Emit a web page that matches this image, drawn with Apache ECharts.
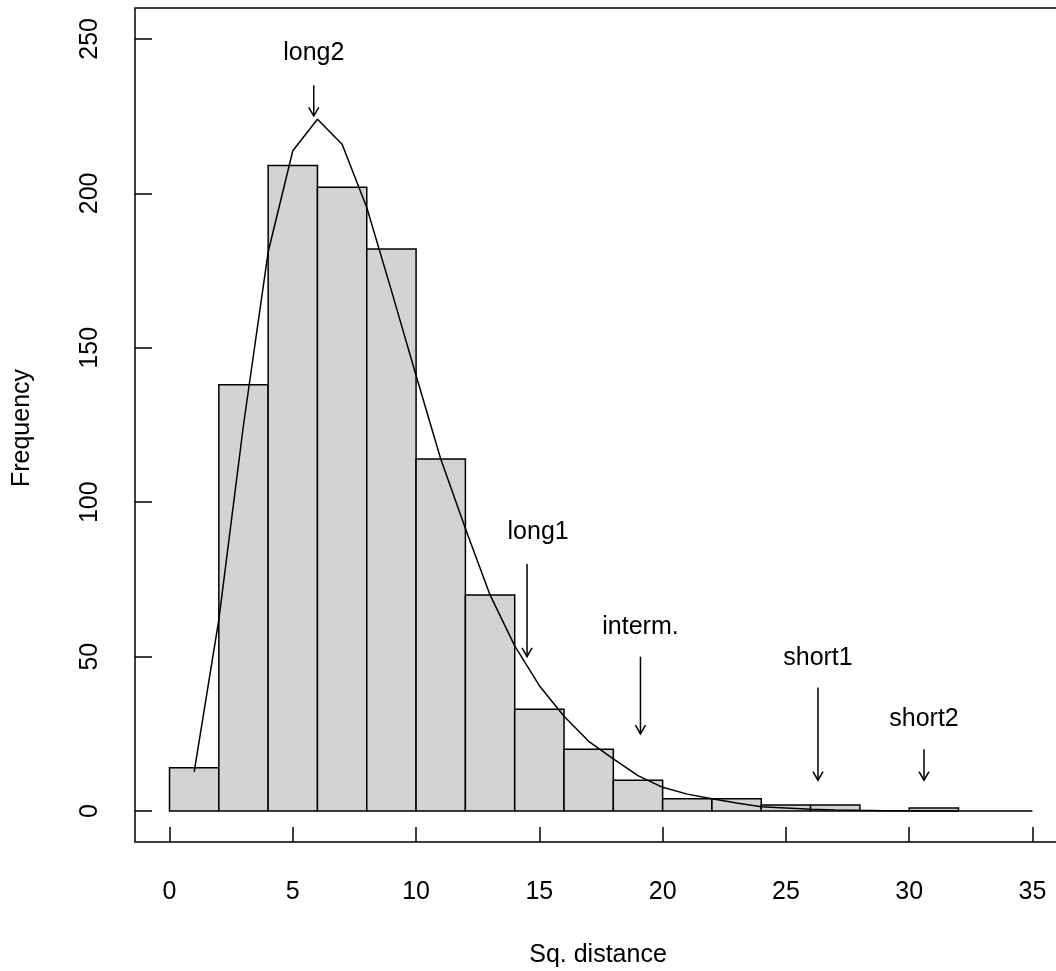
<!DOCTYPE html>
<html>
<head>
<meta charset="utf-8">
<script src="https://cdn.jsdelivr.net/npm/echarts@6/dist/echarts.min.js"></script>
<style>
html,body{margin:0;padding:0;background:#fff;}
#chart{width:1056px;height:971px;}
</style>
</head>
<body>
<div id="chart"></div>
<script>
// Histogram bins (edges) and counts
const binEdges = [0,2,4,6,8,10,12,14,16,18,20,22,24,26,28,30,32];
const counts = [14,138,209,202,182,114,70,33,20,10,4,4,2,2,0,1];

// Fitted curve
const curveX = [1,2,3,4,5,6,7,8,9,10,11,12,13,14,15,16,17,18,19,20,21,22,23,24,25,26,27,28,29,30,31,32,33,34,35];
const curveY = [12.7,62,125,181,213.8,224,215.9,195.4,168.5,141,114,91.5,70,53.5,40.6,30.7,22.6,16.9,11.5,7.7,5.5,4,2.6,1.4,1.0,0.6,0.4,0.25,0.15,0.1,0.06,0.04,0.02,0.01,0];

// Annotations
const annLabels = ['long2','long1','interm.','short1','short2'];
const arrowX = [5.85, 14.5, 19.1, 26.3, 30.6];
const arrowFrom = [235, 80, 50, 40, 20];
const arrowTo = [225, 50, 25, 10, 10];
const labelX = [5.85, 14.95, 19.1, 26.3, 30.6];
const labelY = [245.5, 90.4, 59.6, 49.4, 29.7];

// Axis ticks
const xTicks = [0,5,10,15,20,25,30,35];
const yTicks = [0,50,100,150,200,250];

const FONT = '"Liberation Sans", Arial, Helvetica, sans-serif';
const LW = 1.5;

const binData = counts.map((c,i)=>[binEdges[i], binEdges[i+1], c]);
const curveData = curveX.map((x,i)=>[x, curveY[i]]);
const annData = annLabels.map((l,i)=>[arrowX[i], arrowFrom[i], arrowTo[i], labelX[i], labelY[i]]);

const chart = echarts.init(document.getElementById('chart'), null, {renderer:'canvas'});
chart.setOption({
  animation:false,
  backgroundColor:'#fff',
  grid:{left:135, top:8, width:932, height:834, show:true, borderColor:'#000', borderWidth:LW,
        backgroundColor:'transparent', containLabel:false, outerBoundsMode:'none'},
  xAxis:{
    type:'value', min:-1.4, max:36.4,
    axisLine:{show:false, onZero:false},
    splitLine:{show:false},
    axisTick:{show:true, inside:true, length:15, customValues:xTicks, lineStyle:{color:'#000', width:LW}},
    axisLabel:{show:true, customValues:xTicks, margin:38, fontSize:25, color:'#000', fontFamily:FONT}
  },
  yAxis:{
    type:'value', min:-10, max:260,
    axisLine:{show:false, onZero:false},
    splitLine:{show:false},
    axisTick:{show:true, inside:true, length:17, customValues:yTicks, lineStyle:{color:'#000', width:LW}},
    axisLabel:{show:true, customValues:yTicks, rotate:90, margin:32, fontSize:25, color:'#000', fontFamily:FONT}
  },
  graphic:[
    {type:'text', x:598, y:955, style:{text:'Sq. distance', fontSize:25, fontFamily:FONT, fill:'#000', align:'center', verticalAlign:'middle'}},
    {type:'text', x:22, y:428, rotation:Math.PI/2, style:{text:'Frequency', fontSize:25, fontFamily:FONT, fill:'#000', align:'center', verticalAlign:'middle'}}
  ],
  series:[
    {
      type:'custom', name:'hist', data:binData, z:2,
      encode:{x:[0,1], y:2},
      renderItem:function(params, api){
        const p0 = api.coord([api.value(0), api.value(2)]);
        const p1 = api.coord([api.value(1), 0]);
        return {type:'rect', shape:{x:p0[0], y:p0[1], width:p1[0]-p0[0], height:p1[1]-p0[1]},
          style:{fill:'#d3d3d3', stroke:'#000', lineWidth:LW}};
      }
    },
    {
      type:'line', name:'curve', data:curveData, z:3, showSymbol:false, smooth:false,
      lineStyle:{color:'#000', width:LW}
    },
    {
      type:'custom', name:'ann', data:annData, z:4,
      encode:{x:[0,3], y:[1,2,4]},
      renderItem:function(params, api){
        const i = params.dataIndex;
        const a = api.coord([api.value(0), api.value(1)]);
        const b = api.coord([api.value(0), api.value(2)]);
        const t = api.coord([api.value(3), api.value(4)]);
        const hl = 10, hw = 5;
        return {type:'group', children:[
          {type:'line', shape:{x1:a[0], y1:a[1], x2:b[0], y2:b[1]}, style:{stroke:'#000', lineWidth:LW}},
          {type:'polyline', shape:{points:[[b[0]-hw, b[1]-hl*0.87],[b[0], b[1]],[b[0]+hw, b[1]-hl*0.87]]}, style:{stroke:'#000', fill:null, lineWidth:LW}},
          {type:'text', x:t[0], y:t[1], style:{text:annLabels[i], fontSize:25, fontFamily:FONT, fill:'#000', align:'center', verticalAlign:'middle'}}
        ]};
      }
    }
  ]
});
</script>
</body>
</html>
